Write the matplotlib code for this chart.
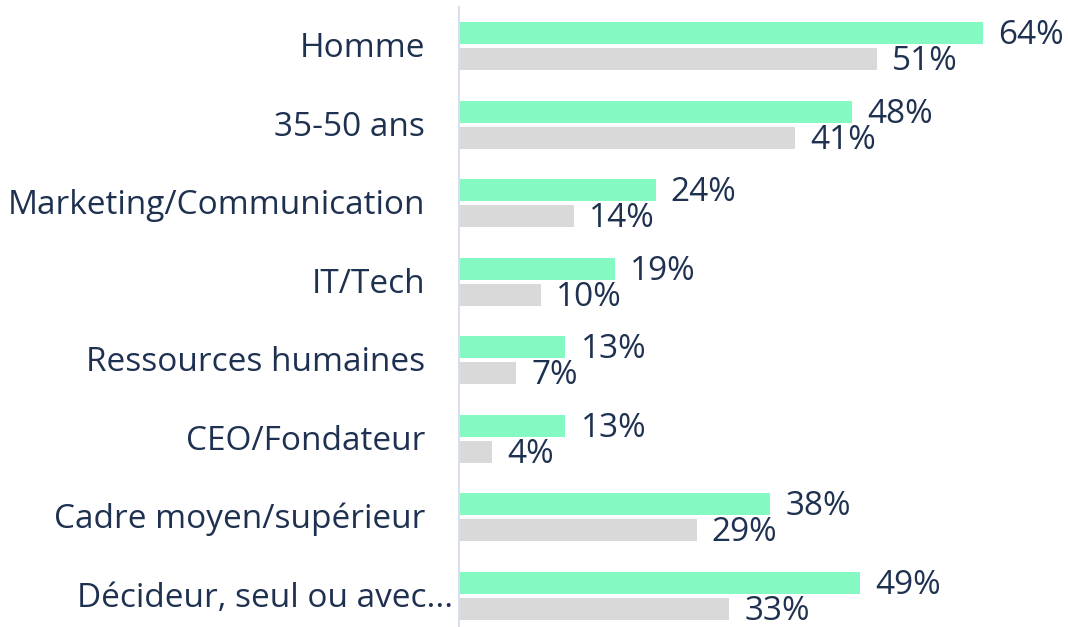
import numpy as np
import matplotlib.pyplot as plt

categories = ["Homme", "35-50 ans", "Marketing/Communication", "IT/Tech",
              "Ressources humaines", "CEO/Fondateur", "Cadre moyen/supérieur",
              "Décideur, seul ou avec..."]
green_vals = [64, 48, 24, 19, 13, 13, 38, 49]
gray_vals = [51, 41, 14, 10, 7, 4, 29, 33]

green = "#84F9C2"
gray = "#D9D9D9"
txt = "#1F3150"

plt.rcParams['font.family'] = ['Open Sans', 'DejaVu Sans']

fig = plt.figure(figsize=(10.68, 6.27), dpi=100)
ax = fig.add_axes([459 / 1068, 0, 1 - 459 / 1068, 1 - 7 / 627])

y = np.arange(len(categories))
h = 22 / 78.5
off = 13 / 78.5
ax.barh(y - off, green_vals, height=h, color=green)
ax.barh(y + off, gray_vals, height=h, color=gray)

# labels sit on baseline, ~11px under the bar centre
for i, (g, s) in enumerate(zip(green_vals, gray_vals)):
    ax.annotate(f"{g}%", (g, i - off), xytext=(15, -11), textcoords="offset pixels",
                va="baseline", ha="left", fontsize=24, color=txt)
    ax.annotate(f"{s}%", (s, i + off), xytext=(15, -11), textcoords="offset pixels",
                va="baseline", ha="left", fontsize=24, color=txt)

for i, c in enumerate(categories):
    shift = -34 if i < len(categories) - 1 else -6
    ax.annotate(c, (0, i), xycoords=("data", "data"), xytext=(shift, -11),
                textcoords="offset pixels", va="baseline", ha="right",
                fontsize=24, color=txt, annotation_clip=False)

ax.set_xlim(0, 609 / 8.19)
ax.set_ylim(7.4, -0.497)
ax.set_xticks([])
ax.set_yticks([])
for sp in ["top", "right", "bottom"]:
    ax.spines[sp].set_visible(False)
ax.spines["left"].set_color("#D6DEEF")
ax.spines["left"].set_linewidth(1.5)

fig.savefig("out.png", dpi=100)
